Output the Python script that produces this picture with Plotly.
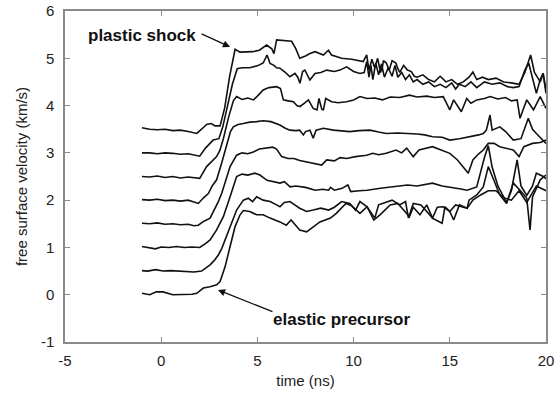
import plotly.graph_objects as go

# (time ns, free surface velocity km/s), one list per offset trace
trace_35 = [(-1,3.53),(-0.6,3.5),(-0.2,3.49),(0.2,3.5),(0.6,3.47),(1.0,3.48),(1.4,3.45),(1.85,3.41),(2.1,3.5),(2.36,3.6),(2.6,3.62),(2.8,3.57),(3.06,3.57),(3.3,3.95),(3.55,4.6),(3.84,5.19),(4.1,5.13),(4.4,5.14),(4.77,5.14),(5.1,5.17),(5.48,5.28),(5.75,5.2),(5.86,5.10),(6.0,5.39),(6.4,5.38),(6.78,5.36),(7.0,5.2),(7.2,5.0),(7.5,5.05),(7.73,5.10),(8.0,5.14),(8.43,5.07),(8.69,5.17),(8.85,5.07),(9.38,5.0),(9.9,4.98),(10.5,4.93),(10.68,5.07),(10.8,4.75),(10.95,4.98),(11.05,4.85),(11.1,4.8),(11.25,5.0),(11.4,4.7),(11.5,4.82),(11.55,4.95),(11.7,4.9),(11.85,4.75),(12.0,4.95),(12.2,4.9),(12.3,4.78),(12.4,4.7),(12.6,4.85),(12.8,4.75),(13.0,4.72),(13.15,4.62),(13.3,4.6),(13.6,4.65),(13.9,4.55),(14.2,4.5),(14.5,4.62),(14.8,4.5),(15.1,4.55),(15.4,4.45),(15.7,4.5),(16.0,4.6),(16.2,4.71),(16.4,4.55),(16.7,4.6),(17.0,4.55),(17.4,4.58),(17.8,4.5),(18.2,4.48),(18.6,4.45),(18.9,4.7),(19.2,5.07),(19.4,4.7),(19.7,4.5),(19.85,4.68),(20,4.33)]
trace_30 = [(-1,3.0),(-0.6,3.0),(-0.2,2.98),(0.2,3.0),(0.6,2.99),(1.0,2.97),(1.4,2.98),(1.7,2.95),(2.0,2.93),(2.3,3.1),(2.7,3.27),(3.0,3.3),(3.2,3.55),(3.45,4.0),(3.7,4.45),(3.95,4.78),(4.2,4.8),(4.6,4.8),(5.0,4.84),(5.3,4.9),(5.5,5.07),(5.66,4.89),(5.86,4.85),(6.0,4.8),(6.17,4.79),(6.45,4.7),(6.69,4.61),(6.95,4.68),(7.1,4.6),(7.21,4.47),(7.35,4.72),(7.47,4.75),(7.73,4.54),(7.99,4.68),(8.3,4.7),(8.6,4.75),(9.0,4.72),(9.29,4.75),(9.64,4.82),(10.0,4.72),(10.33,4.68),(10.55,4.7),(10.68,4.93),(10.8,4.6),(10.9,4.85),(11.0,4.55),(11.15,4.9),(11.3,4.65),(11.45,4.88),(11.6,4.6),(11.8,4.8),(12.0,4.62),(12.15,4.85),(12.3,4.6),(12.5,4.7),(12.7,4.55),(12.9,4.65),(13.1,4.5),(13.3,4.55),(13.6,4.45),(13.9,4.5),(14.2,4.4),(14.5,4.45),(14.8,4.38),(15.1,4.48),(15.3,4.35),(15.5,4.45),(15.8,4.4),(16.1,4.5),(16.4,4.38),(16.8,4.5),(17.2,4.45),(17.6,4.48),(18.0,4.4),(18.3,4.38),(18.6,4.4),(18.9,4.75),(19.1,4.9),(19.3,4.6),(19.5,4.26),(19.7,4.55),(19.85,4.68),(20,4.26)]
trace_25 = [(-1,2.5),(-0.6,2.49),(-0.2,2.51),(0.2,2.48),(0.6,2.5),(1.0,2.47),(1.4,2.49),(1.8,2.47),(2.0,2.46),(2.36,2.71),(2.6,2.8),(2.88,2.92),(3.05,3.05),(3.23,3.3),(3.5,3.75),(3.75,4.1),(3.92,4.19),(4.2,4.13),(4.5,4.16),(4.8,4.12),(5.0,4.2),(5.3,4.33),(5.6,4.38),(6.0,4.40),(6.2,4.36),(6.35,4.12),(6.6,4.1),(6.87,4.08),(7.05,4.0),(7.21,3.98),(7.45,4.05),(7.65,4.12),(7.9,3.94),(8.1,3.91),(8.2,4.15),(8.35,3.92),(8.43,3.91),(8.55,4.15),(8.86,4.08),(9.2,4.06),(9.64,4.08),(10.0,4.12),(10.33,4.19),(10.7,4.15),(11.1,4.16),(11.5,4.12),(11.9,4.18),(12.4,4.17),(12.9,4.22),(13.3,4.18),(13.8,4.2),(14.2,4.17),(14.66,4.19),(15.0,3.91),(15.2,4.12),(15.4,4.0),(15.6,3.87),(15.88,4.15),(16.1,4.05),(16.4,4.12),(16.8,4.15),(17.1,4.19),(17.5,4.14),(17.9,4.17),(18.2,4.1),(18.5,4.12),(18.65,3.73),(18.8,3.9),(19.0,4.12),(19.2,4.0),(19.35,3.91),(19.7,4.19),(19.85,4.05),(20,3.94)]
trace_20 = [(-1,2.01),(-0.6,2.0),(-0.2,2.02),(0.2,1.99),(0.6,2.0),(1.0,1.98),(1.4,2.0),(1.7,1.96),(1.93,1.93),(2.2,2.05),(2.45,2.14),(2.65,2.3),(2.88,2.43),(3.14,2.78),(3.4,3.13),(3.6,3.45),(3.75,3.55),(4.0,3.6),(4.27,3.62),(4.6,3.65),(4.96,3.66),(5.3,3.68),(5.7,3.66),(6.17,3.59),(6.45,3.52),(6.69,3.48),(7.0,3.47),(7.2,3.48),(7.39,3.38),(7.5,3.45),(7.73,3.48),(7.9,3.31),(8.05,3.48),(8.43,3.52),(8.95,3.48),(9.4,3.47),(9.8,3.45),(10.3,3.47),(10.85,3.48),(11.3,3.44),(11.7,3.41),(12.3,3.42),(12.9,3.41),(13.3,3.4),(13.7,3.38),(14.1,3.34),(14.6,3.33),(15.0,3.27),(15.5,3.3),(16.05,3.34),(16.5,3.38),(16.74,3.41),(16.9,3.48),(17.09,3.80),(17.2,3.48),(17.6,3.55),(17.9,3.45),(18.3,3.27),(18.7,3.3),(19.08,3.73),(19.3,3.5),(19.5,3.41),(19.75,3.31),(20,3.2)]
trace_15 = [(-1,1.51),(-0.6,1.5),(-0.2,1.52),(0.2,1.49),(0.6,1.5),(1.0,1.48),(1.4,1.49),(1.7,1.46),(1.93,1.47),(2.2,1.55),(2.54,1.62),(2.75,1.78),(2.97,1.97),(3.15,2.15),(3.32,2.36),(3.58,2.71),(3.92,2.95),(4.2,3.0),(4.5,2.98),(4.79,3.02),(5.1,3.08),(5.4,3.1),(5.8,3.12),(6.0,3.08),(6.26,2.92),(6.6,2.88),(6.9,2.88),(7.2,2.84),(7.56,2.81),(7.9,2.78),(8.34,2.74),(8.6,2.85),(9.0,2.83),(9.3,2.9),(9.64,2.88),(10.1,2.92),(10.68,2.95),(11.0,2.99),(11.3,2.96),(11.7,2.99),(12.2,3.06),(12.5,3.0),(12.76,3.1),(13.1,2.92),(13.4,3.06),(14.1,3.13),(14.6,3.05),(15.0,2.99),(15.4,2.85),(15.7,2.71),(15.96,2.57),(16.2,2.85),(16.5,2.98),(16.74,3.06),(17.0,3.2),(17.3,3.2),(17.6,3.13),(18.3,3.06),(18.6,2.92),(18.85,3.13),(19.3,3.2),(19.7,3.22),(20,3.27)]
trace_10 = [(-1,1.02),(-0.6,1.0),(-0.3,0.97),(0,1.01),(0.4,1.0),(0.8,1.02),(1.2,1.0),(1.6,1.01),(2.0,1.0),(2.3,1.08),(2.54,1.16),(2.88,1.37),(3.23,1.65),(3.58,2.07),(3.92,2.5),(4.2,2.55),(4.5,2.53),(4.87,2.57),(5.13,2.53),(5.5,2.42),(5.8,2.4),(6.17,2.36),(6.4,2.39),(6.7,2.28),(7.0,2.3),(7.5,2.27),(8.0,2.21),(8.4,2.23),(8.7,2.21),(8.8,2.27),(9.0,2.21),(9.4,2.25),(9.7,2.32),(9.85,2.18),(10.3,2.2),(10.7,2.21),(11.4,2.25),(12.1,2.28),(12.8,2.32),(13.3,2.3),(13.6,2.32),(14.1,2.36),(14.6,2.3),(15.0,2.28),(15.5,2.24),(15.9,2.21),(16.4,2.28),(16.8,2.9),(17.0,3.15),(17.2,2.7),(17.5,2.3),(17.95,1.95),(18.2,2.2),(18.5,2.85),(18.7,2.3),(19.0,2.1),(19.3,2.3),(19.5,2.57),(19.86,2.5),(20,2.45)]
trace_05 = [(-1,0.51),(-0.7,0.5),(-0.3,0.53),(0.1,0.5),(0.5,0.51),(0.9,0.5),(1.3,0.49),(1.7,0.48),(2.1,0.5),(2.3,0.56),(2.54,0.63),(2.75,0.72),(2.97,0.84),(3.15,0.98),(3.32,1.15),(3.5,1.33),(3.66,1.51),(3.92,1.79),(4.27,2.0),(4.53,2.04),(4.75,1.97),(4.96,2.07),(5.3,2.0),(5.66,1.97),(6.0,1.9),(6.17,1.86),(6.4,1.95),(6.69,1.97),(7.2,1.83),(7.56,1.76),(7.9,1.79),(8.3,1.83),(8.7,1.79),(9.0,1.85),(9.38,1.97),(9.8,1.93),(10.1,1.79),(10.33,1.97),(10.7,1.86),(11.1,1.62),(11.3,1.9),(12.0,2.0),(12.4,1.9),(12.7,1.97),(12.85,1.62),(13.1,1.93),(13.5,1.9),(14.1,1.62),(14.35,1.85),(14.66,1.86),(15.0,1.76),(15.3,1.9),(15.9,1.83),(16.0,2.0),(16.4,2.11),(16.74,2.28),(17.0,2.71),(17.2,2.5),(17.6,2.11),(17.95,1.93),(18.3,2.36),(18.65,2.21),(19.0,2.04),(19.17,1.37),(19.3,2.07),(19.7,2.43),(20,2.53)]
trace_00 = [(-1,0.03),(-0.6,0.0),(-0.25,0.06),(0.1,0.06),(0.6,0.0),(1.1,0.0),(1.6,0.01),(1.85,0.03),(2.19,0.14),(2.54,0.17),(2.88,0.21),(3.06,0.28),(3.32,0.59),(3.58,1.02),(3.84,1.44),(4.1,1.69),(4.27,1.78),(4.6,1.76),(4.96,1.69),(5.3,1.69),(5.66,1.62),(6.17,1.54),(6.5,1.47),(6.75,1.58),(7.2,1.37),(7.56,1.33),(7.9,1.44),(8.25,1.54),(8.8,1.62),(9.1,1.72),(9.6,1.93),(9.9,1.88),(10.33,1.72),(10.7,1.86),(11.05,1.58),(11.4,1.7),(11.9,1.9),(12.3,1.93),(12.6,1.79),(12.9,1.65),(13.1,1.85),(13.45,1.69),(13.8,1.9),(14.1,1.62),(14.6,1.51),(14.75,1.86),(15.0,1.76),(15.2,1.58),(15.5,1.9),(15.9,1.83),(16.2,2.0),(16.6,2.11),(17.0,2.2),(17.4,2.2),(17.8,2.05),(18.2,2.0),(18.6,2.2),(19.0,1.95),(19.5,2.3),(20,2.2)]

traces = [trace_35, trace_30, trace_25, trace_20, trace_15, trace_10, trace_05, trace_00]

x_ticks = [-5, 0, 5, 10, 15, 20]
y_ticks = [-1, 0, 1, 2, 3, 4, 5, 6]

fig = go.Figure()
for tr in traces:
    t, v = zip(*tr)
    fig.add_trace(go.Scatter(x=list(t), y=list(v), mode="lines",
                             line=dict(color="#111111", width=1.6),
                             showlegend=False, hoverinfo="skip", cliponaxis=False))

FONT = "Liberation Sans, Arial, sans-serif"
ann_font = dict(family=FONT, size=17, color="#111111")
fig.add_annotation(x=-1.0, y=5.49, text="<b>plastic shock</b>", showarrow=False,
                   font=ann_font, xref="x", yref="y")
fig.add_annotation(x=3.58, y=5.24, ax=2.02, ay=5.53, axref="x", ayref="y",
                   text="", showarrow=True, arrowhead=2, arrowsize=1.1,
                   arrowwidth=1.3, arrowcolor="#111111", xref="x", yref="y")
fig.add_annotation(x=9.35, y=-0.53, text="<b>elastic precursor</b>", showarrow=False,
                   font=ann_font, xref="x", yref="y")
fig.add_annotation(x=2.95, y=0.10, ax=5.86, ay=-0.37, axref="x", ayref="y",
                   text="", showarrow=True, arrowhead=2, arrowsize=1.1,
                   arrowwidth=1.3, arrowcolor="#111111", xref="x", yref="y")

axis_common = dict(showline=True, linecolor="#8a8a8a", linewidth=1.5, mirror="ticks",
                   ticks="inside", ticklen=5, tickwidth=1, tickcolor="#8a8a8a",
                   showgrid=False, zeroline=False, automargin=False,
                   tickfont=dict(family=FONT, size=15, color="#222222"))

fig.update_xaxes(range=[-5, 20], tickvals=x_ticks, ticktext=[str(v) for v in x_ticks],
                 title=dict(text="time (ns)", standoff=8,
                            font=dict(family=FONT, size=15, color="#222222")),
                 ticklabelstandoff=4, **axis_common)
fig.update_yaxes(range=[-1, 6], tickvals=y_ticks, ticktext=[str(v) for v in y_ticks],
                 title=dict(text="free surface velocity (km/s)", standoff=10,
                            font=dict(family=FONT, size=15, color="#222222")),
                 ticklabelstandoff=6, **axis_common)

fig.update_layout(width=560, height=394, margin=dict(l=65, r=14, t=11, b=52),
                  plot_bgcolor="white", paper_bgcolor="white")

fig.write_html("out.html")
